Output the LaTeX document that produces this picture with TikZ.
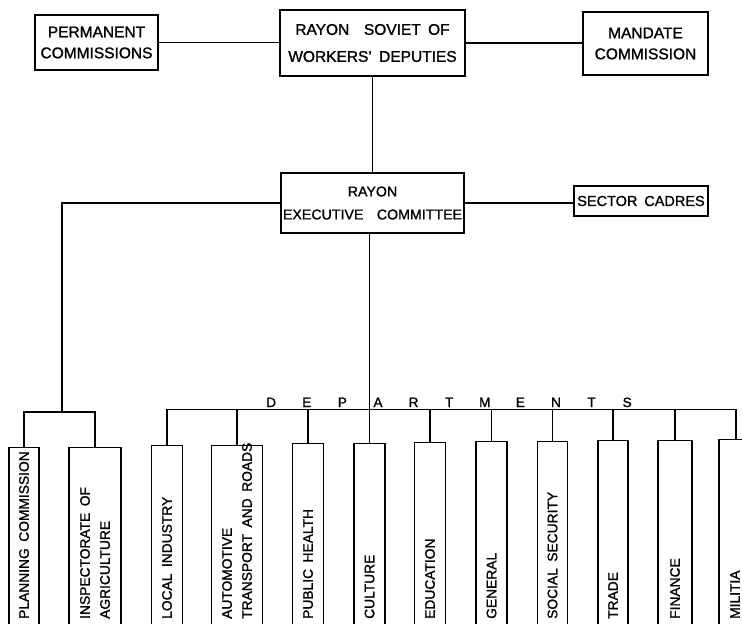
\documentclass[tikz,border=0pt]{standalone}
\usepackage{fontspec}
\setmainfont{Liberation Sans}[WordSpace=1.7,FakeBold=1.3]
\newcommand\dletter[1]{\makebox[35.6pt]{#1}}
\begin{document}
\begin{tikzpicture}[x=1pt,y=-1pt,
  topbox/.style={draw,line width=1.4pt,align=center,inner sep=0pt,font=\fontsize{15.5}{21}\selectfont},
  dbox/.style={draw,line width=1.4pt,anchor=north,minimum height=200pt,inner sep=0pt},
  vtext/.style={rotate=90,anchor=west,inner sep=0pt,align=left,font=\fontsize{13.8}{20}\selectfont},
  conn/.style={line width=1.1pt}]
\useasboundingbox (0,0) rectangle (742,624);
\clip (0,0) rectangle (742,624);
% top level
\node[topbox,minimum width=123pt,minimum height=55pt] (perm) at (96.5,42.5) {PERMANENT\\COMMISSIONS};
\node[topbox,minimum width=185pt,minimum height=66pt,font=\fontsize{15.5}{27}\selectfont] (soviet) at (372.5,43) {RAYON\ \ SOVIET OF\\WORKERS' DEPUTIES};
\node[topbox,minimum width=125pt,minimum height=63pt] (mandate) at (645.5,43.5) {MANDATE\\COMMISSION};
\node[topbox,minimum width=183pt,minimum height=60pt,font=\fontsize{14.2}{23}\selectfont] (exec) at (372.5,203) {RAYON\\EXECUTIVE\ \ COMMITTEE};
\node[topbox,minimum width=134pt,minimum height=30pt,font=\fontsize{14.5}{17}\selectfont] (sector) at (641,201) {SECTOR\ CADRES};
% bottom boxes
\node[dbox,minimum width=30pt] (plan) at (24,447) {};
\node[dbox,minimum width=52pt] (insp) at (95,447) {};
\node[dbox,minimum width=31pt] (local) at (167,445) {};
\node[dbox,minimum width=51pt] (auto) at (237,445) {};
\node[dbox,minimum width=31pt] (public) at (308,443) {};
\node[dbox,minimum width=31pt] (culture) at (369.5,443) {};
\node[dbox,minimum width=31pt] (educ) at (430,442) {};
\node[dbox,minimum width=31pt] (general) at (491.5,441) {};
\node[dbox,minimum width=30pt] (social) at (552.5,441) {};
\node[dbox,minimum width=30pt] (trade) at (613,440) {};
\node[dbox,minimum width=34pt] (finance) at (675,440) {};
\node[dbox,minimum width=32pt] (militia) at (735,439) {};
\coordinate (base) at (0,619);
\node[vtext] (planT) at (plan.north |- base) {PLANNING\ COMMISSION};
\node[vtext] (inspT) at (insp.north |- base) {INSPECTORATE OF\\AGRICULTURE};
\node[vtext] (localT) at (local.north |- base) {LOCAL\ INDUSTRY};
\node[vtext] (autoT) at (auto.north |- base) {AUTOMOTIVE\\TRANSPORT AND ROADS};
\node[vtext] (publicT) at (public.north |- base) {PUBLIC\ HEALTH};
\node[vtext] (cultureT) at (culture.north |- base) {CULTURE};
\node[vtext] (educT) at (educ.north |- base) {EDUCATION};
\node[vtext] (generalT) at (general.north |- base) {GENERAL};
\node[vtext] (socialT) at (social.north |- base) {SOCIAL\ SECURITY};
\node[vtext] (tradeT) at (trade.north |- base) {TRADE};
\node[vtext] (financeT) at (finance.north |- base) {FINANCE};
\node[vtext] (militiaT) at (militia.north |- base) {MILITIA};
% departments label
\node[anchor=base west,inner sep=0pt,font=\fontsize{13.5}{15}\selectfont] (dept) at (253.2,407) {\dletter{D}\dletter{E}\dletter{P}\dletter{A}\dletter{R}\dletter{T}\dletter{M}\dletter{E}\dletter{N}\dletter{T}\dletter{S}};
% connectors
\coordinate (lj) at (62,412);
\coordinate (dl) at (0,409.5);
\draw[conn] (perm.east) -- (perm.east -| soviet.west);
\draw[conn] (soviet.east) -- (soviet.east -| mandate.west);
\draw[conn] (soviet.south) -- (exec.north);
\draw[conn] (exec.east) -- (exec.east -| sector.west);
\draw[conn] (exec.west) -| (lj);
\draw[conn] (plan.north) |- (lj) -| (insp.north);
\draw[conn] (local.north) |- ([xshift=1pt]militia.north |- dl) -- ([xshift=1pt]militia.north);
\draw[conn] (culture.north) -- (culture.north |- exec.south);
\foreach \b in {auto,public,educ,general,social,trade,finance}
  \draw[conn] (\b.north) -- (\b.north |- dl);
\end{tikzpicture}
\end{document}
